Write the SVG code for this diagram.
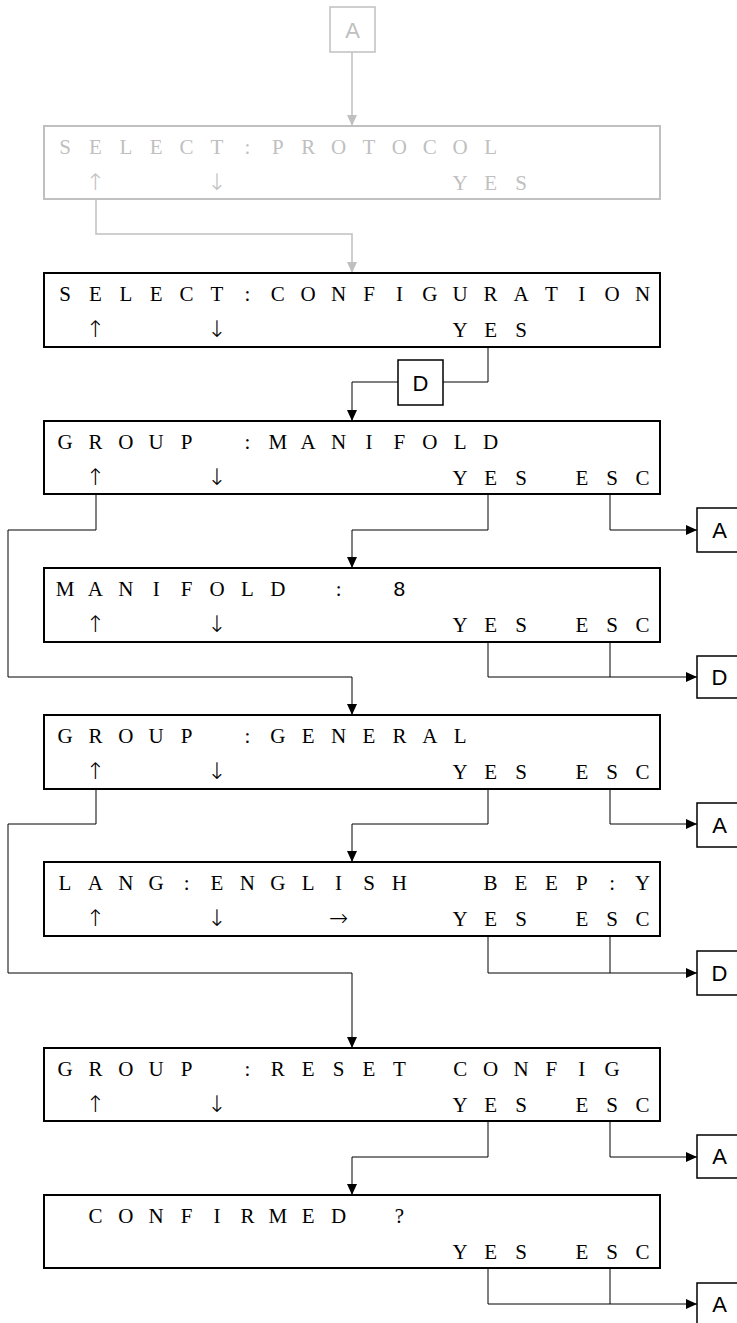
<svg xmlns="http://www.w3.org/2000/svg" width="737" height="1323" viewBox="0 0 737 1323">
<style>
.bg{fill:#fff}
.box{fill:#fff;stroke:#000;stroke-width:2}
.gbox{fill:#fff;stroke:#c0c0c0;stroke-width:2}
.tag{fill:#fff;stroke:#000;stroke-width:1.5}
.gtag{fill:#fff;stroke:#c0c0c0;stroke-width:1.5}
.lcd{font-family:"Liberation Serif","Times New Roman",serif;font-size:21px;fill:#000;text-anchor:middle}
.arr{font-family:"DejaVu Sans",sans-serif;font-size:23px;font-weight:200;fill:#000;text-anchor:middle}
.lbl{font-family:"Liberation Sans",Arial,sans-serif;font-size:22px;fill:#000;text-anchor:middle}
.g{fill:#c0c0c0}
.c{fill:none;stroke:#000;stroke-width:1}
.gc{fill:none;stroke:#c0c0c0;stroke-width:1.5}
</style>
<defs>
<marker id="ah" markerUnits="userSpaceOnUse" markerWidth="12" markerHeight="10" refX="11" refY="5" orient="auto"><path d="M0,0 L11,5 L0,10 z" fill="#000"/></marker>
<marker id="gah" markerUnits="userSpaceOnUse" markerWidth="12" markerHeight="10" refX="11" refY="5" orient="auto"><path d="M0,0 L11,5 L0,10 z" fill="#c0c0c0"/></marker>
</defs>
<rect class="bg" x="0" y="0" width="737" height="1323"/>
<g id="connectors">
<path class="gc" d="M352,52 V126" marker-end="url(#gah)"/>
<path class="gc" d="M96,199 V234 H352 V273" marker-end="url(#gah)"/>
<path class="c" d="M488,347 V382 H398"/>
<path class="c" d="M398,382 H352 V421" marker-end="url(#ah)"/>
<path class="c" d="M488,494 V530 H352 V568" marker-end="url(#ah)"/>
<path class="c" d="M610,494 V530 H697" marker-end="url(#ah)"/>
<path class="c" d="M96,494 V530 H8 V677 H352 V715" marker-end="url(#ah)"/>
<path class="c" d="M488,642 V677 H697" marker-end="url(#ah)"/>
<path class="c" d="M610,642 V677"/>
<path class="c" d="M488,789 V824 H352 V862" marker-end="url(#ah)"/>
<path class="c" d="M610,789 V824 H697" marker-end="url(#ah)"/>
<path class="c" d="M96,789 V824 H8 V973 H352 V1048" marker-end="url(#ah)"/>
<path class="c" d="M488,936 V973 H697" marker-end="url(#ah)"/>
<path class="c" d="M610,936 V973"/>
<path class="c" d="M488,1121 V1157 H352 V1195" marker-end="url(#ah)"/>
<path class="c" d="M610,1121 V1157 H697" marker-end="url(#ah)"/>
<path class="c" d="M488,1268 V1304 H697" marker-end="url(#ah)"/>
<path class="c" d="M610,1268 V1304"/>
</g>
<g id="tagA0"><rect class="gtag" x="330" y="7" width="45" height="45"/><text class="lbl g" x="352.5" y="37.5">A</text></g>
<g id="protocol"><rect class="gbox" x="44" y="126" width="616" height="73"/>
<text class="lcd g" x="65 95.4 125.8 156.2 186.6 217 247.4 277.8 308.2 338.6 369 399.4 429.8 460.2 490.6" y="154">SELECT:PROTOCOL</text>
<text class="arr g" x="95.4 217" y="190">↑↓</text>
<text class="lcd g" x="460.2 490.6 521" y="190">YES</text></g>
<g id="configuration"><rect class="box" x="44" y="273" width="616" height="74"/>
<text class="lcd" x="65 95.4 125.8 156.2 186.6 217 247.4 277.8 308.2 338.6 369 399.4 429.8 460.2 490.6 521 551.4 581.8 612.2 642.6" y="301">SELECT:CONFIGURATION</text>
<text class="arr" x="95.4 217" y="337">↑↓</text>
<text class="lcd" x="460.2 490.6 521" y="337">YES</text></g>
<g id="tagD0"><rect class="tag" x="398" y="360" width="45" height="45"/><text class="lbl" x="420.5" y="390.5">D</text></g>
<g id="manifold"><rect class="box" x="44" y="421" width="616" height="73"/>
<text class="lcd" x="65 95.4 125.8 156.2 186.6 247.4 277.8 308.2 338.6 369 399.4 429.8 460.2 490.6" y="449">GROUP:MANIFOLD</text>
<text class="arr" x="95.4 217" y="485">↑↓</text>
<text class="lcd" x="460.2 490.6 521 581.8 612.2 642.6" y="485">YESESC</text></g>
<g id="tagA1"><rect class="tag" x="697" y="508" width="45" height="44"/><text class="lbl" x="719.5" y="538">A</text></g>
<g id="manifold8"><rect class="box" x="44" y="568" width="616" height="74"/>
<text class="lcd" x="65 95.4 125.8 156.2 186.6 217 247.4 277.8 338.6" y="596">MANIFOLD:</text>
<text class="lbl" x="399.4" y="596" style="font-size:21px">8</text>
<text class="arr" x="95.4 217" y="632">↑↓</text>
<text class="lcd" x="460.2 490.6 521 581.8 612.2 642.6" y="632">YESESC</text></g>
<g id="tagD1"><rect class="tag" x="697" y="656" width="45" height="42"/><text class="lbl" x="719.5" y="685">D</text></g>
<g id="general"><rect class="box" x="44" y="715" width="616" height="74"/>
<text class="lcd" x="65 95.4 125.8 156.2 186.6 247.4 277.8 308.2 338.6 369 399.4 429.8 460.2" y="743">GROUP:GENERAL</text>
<text class="arr" x="95.4 217" y="779">↑↓</text>
<text class="lcd" x="460.2 490.6 521 581.8 612.2 642.6" y="779">YESESC</text></g>
<g id="tagA2"><rect class="tag" x="697" y="803" width="45" height="44"/><text class="lbl" x="719.5" y="833">A</text></g>
<g id="lang"><rect class="box" x="44" y="862" width="616" height="74"/>
<text class="lcd" x="65 95.4 125.8 156.2 186.6 217 247.4 277.8 308.2 338.6 369 399.4 490.6 521 551.4 581.8 612.2 642.6" y="890">LANG:ENGLISHBEEP:Y</text>
<text class="arr" x="95.4 217 338.6" y="926">↑↓→</text>
<text class="lcd" x="460.2 490.6 521 581.8 612.2 642.6" y="926">YESESC</text></g>
<g id="tagD2"><rect class="tag" x="697" y="951" width="45" height="44"/><text class="lbl" x="719.5" y="981">D</text></g>
<g id="reset"><rect class="box" x="44" y="1048" width="616" height="73"/>
<text class="lcd" x="65 95.4 125.8 156.2 186.6 247.4 277.8 308.2 338.6 369 399.4 460.2 490.6 521 551.4 581.8 612.2" y="1076">GROUP:RESETCONFIG</text>
<text class="arr" x="95.4 217" y="1112">↑↓</text>
<text class="lcd" x="460.2 490.6 521 581.8 612.2 642.6" y="1112">YESESC</text></g>
<g id="tagA3"><rect class="tag" x="697" y="1135" width="45" height="43"/><text class="lbl" x="719.5" y="1164">A</text></g>
<g id="confirmed"><rect class="box" x="44" y="1195" width="616" height="73"/>
<text class="lcd" x="95.4 125.8 156.2 186.6 217 247.4 277.8 308.2 338.6 399.4" y="1223">CONFIRMED?</text>
<text class="lcd" x="460.2 490.6 521 581.8 612.2 642.6" y="1259">YESESC</text></g>
<g id="tagA4"><rect class="tag" x="697" y="1283" width="45" height="43"/><text class="lbl" x="719.5" y="1312">A</text></g>
</svg>
